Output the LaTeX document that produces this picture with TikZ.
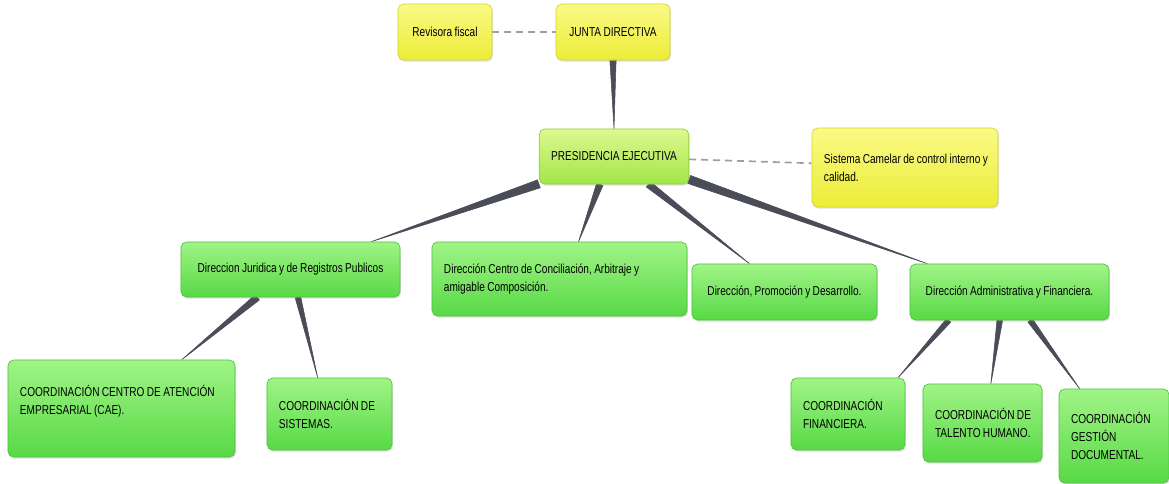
\documentclass[tikz,border=0pt]{standalone}
\usepackage{fontspec}
\setmainfont{Liberation Sans}[FakeStretch=0.78, WordSpace=0.85]
\usetikzlibrary{calc,shadows,backgrounds}

\definecolor{verdeA}{HTML}{A0F486}
\definecolor{verdeB}{HTML}{58D946}
\definecolor{verdeBorde}{HTML}{4EC43E}
\definecolor{amaA}{HTML}{FAFA86}
\definecolor{amaB}{HTML}{ECEC38}
\definecolor{amaBorde}{HTML}{D6D62E}
\definecolor{limaA}{HTML}{DDF890}
\definecolor{limaB}{HTML}{A2E648}
\definecolor{limaBorde}{HTML}{92CC3C}
\definecolor{grisRama}{HTML}{4A4C58}
\definecolor{grisGuion}{HTML}{9C9EA6}

\tikzset{
  caja/.style={draw=verdeBorde, line width=0.5pt, rounded corners=4pt,
    top color=verdeA, bottom color=verdeB,
    drop shadow={shadow xshift=0.6pt, shadow yshift=-1.2pt, opacity=0.25},
    font=\fontsize{9.2}{12.8}\selectfont, inner xsep=0.3cm, inner ysep=0pt},
  amarilla/.style={caja, draw=amaBorde, top color=amaA, bottom color=amaB},
  lima/.style={caja, draw=limaBorde, top color=limaA, bottom color=limaB},
  enlace/.style={draw=grisGuion, line width=1.2pt, dash pattern=on 5pt off 3.5pt},
}
% rama conica: de #1 (grueso) a #2 (fino), semiancho #3
\newcommand{\rama}[3]{\filldraw[fill=grisRama, draw=grisRama, line width=0.4pt, line join=round]
  ($(#1)!#3!90:(#2)$) -- ($(#1)!#3!-90:(#2)$) -- (#2) -- cycle;}

\begin{document}
\begin{tikzpicture}[x=0.025cm, y=-0.025cm]
    \useasboundingbox (0,0) rectangle (1169,484);

    % Nivel superior
    \node[amarilla, minimum width=2.35cm, minimum height=1.4cm] (rev) at (445,32) {Revisora fiscal};
    \node[amarilla, minimum width=2.85cm, minimum height=1.4cm] (junta) at (613,32) {JUNTA DIRECTIVA};
    \node[lima, minimum width=3.7cm, minimum height=1.375cm] (pres) at (614,156.5) {PRESIDENCIA EJECUTIVA};
    \node[amarilla, text width=4.05cm, align=flush left, minimum height=1.975cm] (sis) at (905,167.5)
        {\mbox{Sistema Camelar de control interno y}\\calidad.};

    % Direcciones
    \node[caja, minimum width=5.475cm, minimum height=1.375cm] (jur) at (290.5,269.5) {Direccion Juridica y de Registros Publicos};
    \node[caja, text width=5.775cm, align=flush left, minimum height=1.85cm] (con) at (559.5,279)
        {\mbox{Dirección Centro de Conciliación, Arbitraje y}\\\mbox{amigable Composición.}};
    \node[caja, minimum width=4.625cm, minimum height=1.4cm] (pro) at (784.5,292) {Dirección, Promoción y Desarrollo.};
    \node[caja, minimum width=4.975cm, minimum height=1.4cm] (adm) at (1009.5,292) {Dirección Administrativa y Financiera.};

    % Coordinaciones
    \node[caja, text width=5.075cm, align=flush left, minimum height=2.425cm] (cae) at (121.5,408.5)
        {\mbox{COORDINACIÓN CENTRO DE ATENCIÓN}\\\mbox{EMPRESARIAL (CAE).}\\ \mbox{}};
    \node[caja, text width=2.525cm, align=flush left, minimum height=1.8cm] (sist) at (329.5,414)
        {\mbox{COORDINACIÓN DE}\\SISTEMAS.};
    \node[caja, text width=2.25cm, align=flush left, minimum height=1.8cm] (fin) at (848,414)
        {COORDINACIÓN\\FINANCIERA.};
    \node[caja, text width=2.375cm, align=flush left, minimum height=1.95cm] (tal) at (982.5,423)
        {\mbox{COORDINACIÓN DE}\\\mbox{TALENTO HUMANO.}};
    \node[caja, text width=2.15cm, align=flush left, minimum height=2.35cm] (ges) at (1114,436)
        {COORDINACIÓN\\GESTIÓN\\DOCUMENTAL.};

    \begin{pgfonlayer}{background}
    % Enlaces punteados
    \draw[enlace] (rev.east) -- (junta.west);
    \draw[enlace] ([yshift=-2pt]pres.east) -- ([yshift=3pt]sis.west);

    % Ramas
    \rama{junta.south}{pres.north}{2.2pt}
    \rama{pres.200}{jur.19}{3pt}
    \rama{pres.243}{con.63}{2.4pt}
    \rama{pres.321}{pro.141}{2.4pt}
    \rama{pres.343}{adm.161}{3pt}
    \rama{jur.220}{cae.39}{2.4pt}
    \rama{jur.285}{sist.108}{2pt}
    \rama{adm.205}{fin.36}{2pt}
    \rama{adm.251}{tal.78}{2pt}
    \rama{adm.306}{ges.126}{2pt}
    \end{pgfonlayer}
\end{tikzpicture}
\end{document}
